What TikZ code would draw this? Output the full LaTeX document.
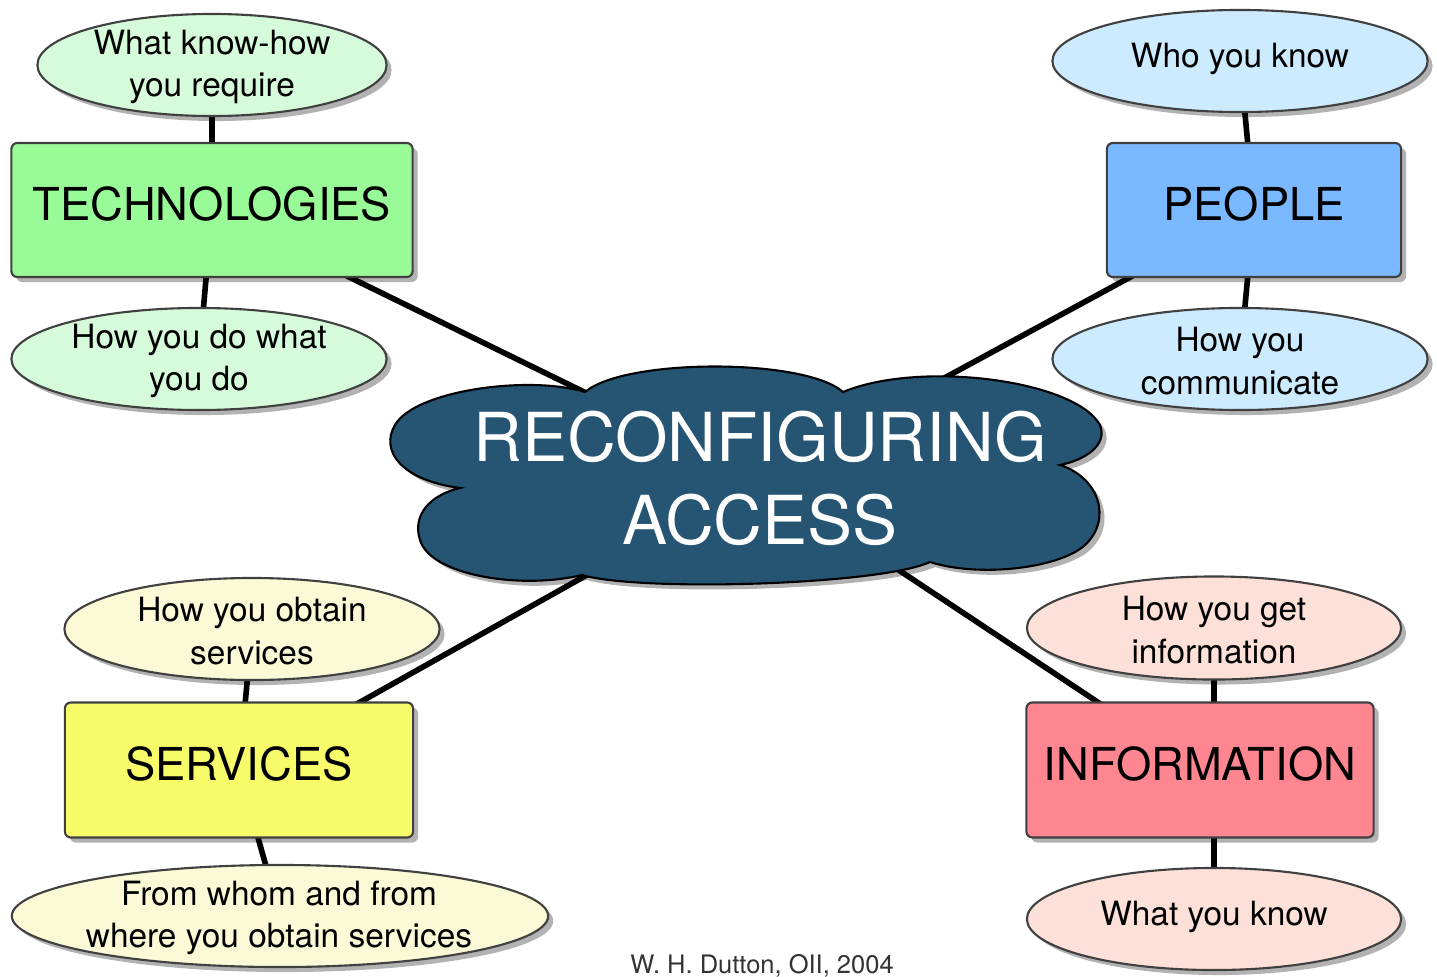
\documentclass[tikz,border=0pt]{standalone}
\usepackage{fontspec}
\setmainfont{TeX Gyre Heros}
\usetikzlibrary{shapes.geometric,shadows}
\pgfdeclarelayer{background}
\pgfsetlayers{background,main}
\definecolor{gE}{RGB}{214,251,219}
\definecolor{gB}{RGB}{152,251,152}
\definecolor{bE}{RGB}{205,235,255}
\definecolor{bB}{RGB}{122,184,255}
\definecolor{yE}{RGB}{251,249,214}
\definecolor{yB}{RGB}{247,251,106}
\definecolor{pE}{RGB}{253,224,216}
\definecolor{pB}{RGB}{253,134,145}
\definecolor{cloudC}{RGB}{38,84,115}
\tikzset{
  shad/.style={drop shadow={shadow xshift=0.05cm, shadow yshift=-0.05cm, fill=black, opacity=0.3}},
  box/.style={draw=black!75, line width=0.6pt, rounded corners=0.06cm, inner sep=0pt,
    minimum height=1.34cm, font=\fontsize{12.9}{15}\selectfont,
    text height=0.33cm, text depth=0.13cm, shad},
  bub/.style={ellipse, draw=black!75, line width=0.6pt, inner sep=0pt, minimum height=1.02cm, shad},
  lbl/.style={font=\fontsize{9.5}{12}\selectfont, align=center, inner sep=0pt},
  link/.style={line width=1.6pt, black},
}
\begin{document}
\begin{tikzpicture}[x=0.01cm, y=-0.01cm]
\useasboundingbox (0,0) rectangle (1437,976);

% cloud
\path[fill=cloudC, draw=black, line width=0.6pt, shad]
  (585,392)
  .. controls (625,358) and (805,358) .. (843,392)
  .. controls (920,360) and (1075,380) .. (1100,425)
  .. controls (1108,445) and (1085,460) .. (1060,465)
  .. controls (1100,478) and (1112,520) .. (1085,545)
  .. controls (1060,568) and (980,578) .. (930,562)
  .. controls (880,585) and (640,592) .. (582,575)
  .. controls (520,590) and (430,575) .. (420,540)
  .. controls (412,515) and (430,495) .. (460,488)
  .. controls (400,480) and (380,450) .. (395,425)
  .. controls (415,390) and (530,375) .. (585,392) -- cycle;
\node[font=\fontsize{19.2}{23.6}\selectfont, text=white, align=center, inner sep=0pt] (cloud) at (760,478) {RECONFIGURING\\ACCESS};

% boxes
\node[box, fill=gB, minimum width=4.01cm] (tech) at (212,210) {TECHNOLOGIES};
\node[box, fill=bB, minimum width=2.94cm] (people) at (1254,210) {PEOPLE};
\node[box, fill=yB, minimum width=3.48cm, minimum height=1.35cm] (serv) at (239,770) {SERVICES};
\node[box, fill=pB, minimum width=3.47cm, minimum height=1.35cm] (info) at (1200,770) {INFORMATION};

% bubbles
\node[bub, fill=gE, minimum width=3.49cm] (e1) at (212,65) {};
\node[lbl] (t1) at (212,67) {What know-how\\you require};
\node[bub, fill=gE, minimum width=3.75cm] (e2) at (199,359) {};
\node[lbl] (t2) at (199,361) {How you do what\\you do};
\node[bub, fill=bE, minimum width=3.75cm] (e3) at (1240,61) {};
\node[lbl] (t3) at (1240,59) {Who you know};
\node[bub, fill=bE, minimum width=3.75cm] (e4) at (1240,359) {};
\node[lbl] (t4) at (1240,361) {How you\\communicate};
\node[bub, fill=yE, minimum width=3.75cm] (e5) at (252,629) {};
\node[lbl] (t5) at (252,631) {How you obtain\\services};
\node[bub, fill=yE, minimum width=5.36cm] (e6) at (280,916) {};
\node[lbl] (t6) at (279,918) {From whom and from\\where you obtain services};
\node[bub, fill=pE, minimum width=3.74cm, minimum height=1.03cm] (e7) at (1214,628) {};
\node[lbl] (t7) at (1214,630) {How you get\\information};
\node[bub, fill=pE, minimum width=3.74cm] (e8) at (1214,919) {};
\node[lbl] (t8) at (1214,917) {What you know};

\node[font=\fontsize{7.25}{9}\selectfont, text=black!80, anchor=base, inner sep=0pt] (credit) at (762,973) {W. H. Dutton, OII, 2004};

\begin{pgfonlayer}{background}
\draw[link] (e1.center) -- (tech.center);
\draw[link] (e2.center) -- (tech.center);
\draw[link] (tech.center) -- (cloud.center);
\draw[link] (e3.center) -- (people.center);
\draw[link] (e4.center) -- (people.center);
\draw[link] (people.center) -- (cloud.center);
\draw[link] (e5.center) -- (serv.center);
\draw[link] (e6.center) -- (serv.center);
\draw[link] (serv.center) -- (cloud.center);
\draw[link] (e7.center) -- (e7.center |- info.center);
\draw[link] (e8.center) -- (e8.center |- info.center);
\draw[link] (info.center) -- (cloud.center);
\end{pgfonlayer}
\end{tikzpicture}
\end{document}
